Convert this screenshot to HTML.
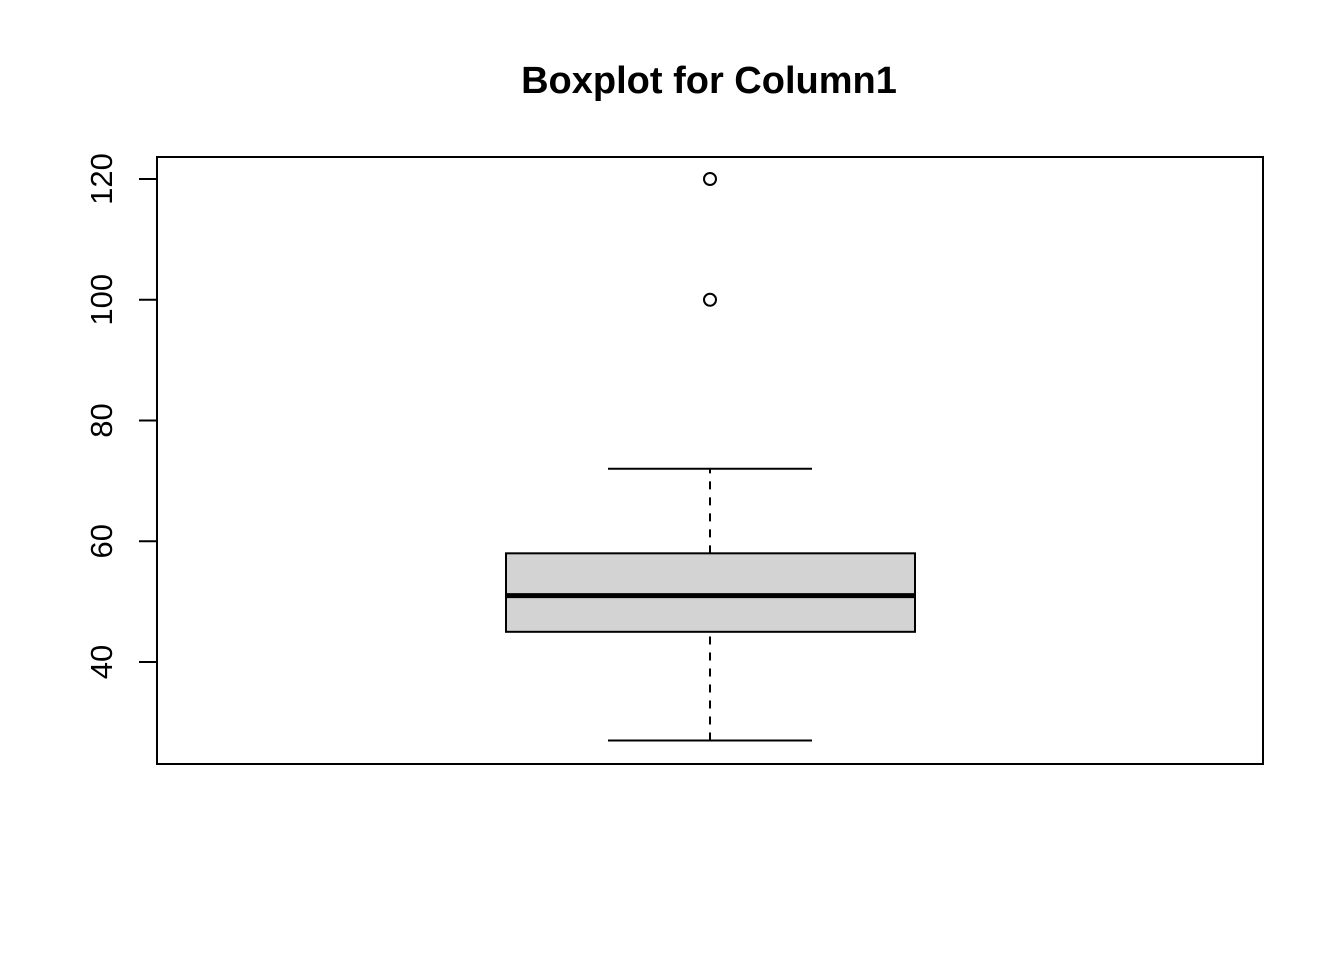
<!DOCTYPE html>
<html><head><meta charset="utf-8"><style>body{margin:0;background:#fff}svg{display:block}</style></head>
<body>
<svg id="chart" width="1344" height="960" xmlns="http://www.w3.org/2000/svg" font-family="Liberation Sans, sans-serif">
<text x="709" y="93" text-anchor="middle" font-size="38" font-weight="bold">Boxplot for Column1</text>
<rect x="157" y="157" width="1106" height="607" fill="none" stroke="#000" stroke-width="2"/>
<g id="yaxis"></g>
<g id="box"></g>
</svg>
<script>
const yTicks=[40,60,80,100,120];
const stats=[27,45,51,58,72]; // lower whisker, Q1, median, Q3, upper whisker
const outliers=[100,120];
const NS="http://www.w3.org/2000/svg";
function y(v){return 662-(v-40)*(662-179)/80;}
const cx=710, bx0=506, bx1=915, cap0=608, cap1=812;
function mk(tag,attrs,parent){const e=document.createElementNS(NS,tag);for(const k in attrs)e.setAttribute(k,attrs[k]);parent.appendChild(e);return e;}
const ya=document.getElementById('yaxis');
const l=mk('line',{x1:157,x2:157,y1:y(yTicks[0]),y2:y(yTicks[yTicks.length-1]),stroke:'#000','stroke-width':2},ya);


yTicks.forEach(t=>{
 const tk=mk('line',{x1:139,x2:157,y1:y(t),y2:y(t),stroke:'#000','stroke-width':2},ya);
 
 
 const tx=mk('text',{x:0,y:0,'font-size':31,'text-anchor':'middle',transform:`translate(112,${y(t)}) rotate(-90)`},ya);
 tx.textContent=t;
 
 
});
const g=document.getElementById('box');
const w1=mk('line',{x1:cx,x2:cx,y1:y(stats[0]),y2:y(stats[1]),stroke:'#000','stroke-width':2,'stroke-dasharray':'8,8'},g);


const w2=mk('line',{x1:cx,x2:cx,y1:y(stats[3]),y2:y(stats[4]),stroke:'#000','stroke-width':2,'stroke-dasharray':'8,8'},g);


const c1=mk('line',{x1:cap0,x2:cap1,y1:y(stats[0]),y2:y(stats[0]),stroke:'#000','stroke-width':2},g);


const c2=mk('line',{x1:cap0,x2:cap1,y1:y(stats[4]),y2:y(stats[4]),stroke:'#000','stroke-width':2},g);


const r=mk('rect',{x:bx0,y:y(stats[3]),width:bx1-bx0,height:y(stats[1])-y(stats[3]),fill:'#d3d3d3',stroke:'#000','stroke-width':2},g);


const m=mk('line',{x1:bx0,x2:bx1,y1:y(stats[2]),y2:y(stats[2]),stroke:'#000','stroke-width':5},g);


outliers.forEach(o=>{
 const c=mk('circle',{cx:cx,cy:y(o),r:6,fill:'none',stroke:'#000','stroke-width':2},g);
 
 
});
</script>
</body></html>
